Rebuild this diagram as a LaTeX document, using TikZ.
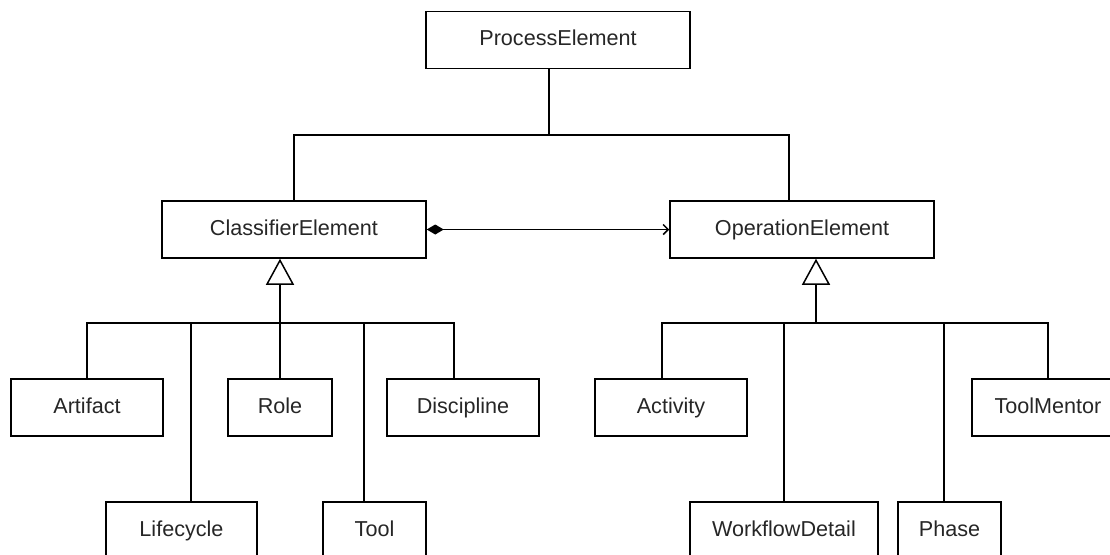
\documentclass[tikz,border=0pt]{standalone}
\usepackage{fontspec}
\setmainfont{Liberation Sans}
\usetikzlibrary{arrows.meta}

\tikzset{
  cls/.style={draw,line width=0.75pt,minimum height=28.5pt,inner sep=0pt,
    text height=7.8pt,text depth=2.2pt,text=black!85,
    font=\fontsize{10.8}{12}\selectfont},
  gen/.style={-{Triangle[open,width=14pt,length=13pt]}},
  comp/.style={{Diamond[length=8.5pt,width=5pt]}-{Straight Barb[length=2.5pt,width=5pt]}}
}

\begin{document}
\begin{tikzpicture}[x=0.5pt,y=-0.5pt,line width=0.75pt]
    \clip (0,0) rectangle (1110,554);
    % upper level
    \node[cls,minimum width=132pt] (process) at (558,40) {ProcessElement};
    \node[cls,minimum width=132pt] (classifier) at (294,229.5) {ClassifierElement};
    \node[cls,minimum width=132pt] (operation) at (802,229.5) {OperationElement};
    % classifier children
    \node[cls,minimum width=76pt] (artifact) at (87,407.5) {Artifact};
    \node[cls,minimum width=52pt] (role) at (280,407.5) {Role};
    \node[cls,minimum width=76pt] (discipline) at (463,407.5) {Discipline};
    \node[cls,minimum width=75.5pt] (lifecycle) at (181.5,530.5) {Lifecycle};
    \node[cls,minimum width=51.5pt] (tool) at (374.5,530.5) {Tool};
    % operation children
    \node[cls,minimum width=76pt] (activity) at (671,407.5) {Activity};
    \node[cls,minimum width=76pt] (toolmentor) at (1048,407.5) {ToolMentor};
    \node[cls,minimum width=94pt] (workflow) at (784,530.5) {WorkflowDetail};
    \node[cls,minimum width=51.5pt] (phase) at (949.5,530.5) {Phase};

    \coordinate (top) at (549,135);
    \coordinate (cbus) at (280,323);
    \coordinate (obus) at (816,323);

    \draw ([xshift=-4.5pt]process.south) -- (top);
    \draw (classifier.north) |- (top) -| ([xshift=-6.5pt]operation.north);
    \draw[comp] (classifier.east) -- (operation.west);

    \draw[gen] (cbus) -- ([xshift=-7pt]classifier.south);
    \foreach \n/\dx in {artifact/0,lifecycle/4.75pt,role/0,tool/-5.25pt,discipline/-4.5pt}{
      \draw ([xshift=\dx]\n.north) |- (cbus);
    }
    \draw[gen] (obus) -- ([xshift=7pt]operation.south);
    \foreach \n/\dx in {activity/-4.5pt,workflow/0,phase/-2.75pt,toolmentor/0}{
      \draw ([xshift=\dx]\n.north) |- (obus);
    }
\end{tikzpicture}
\end{document}
